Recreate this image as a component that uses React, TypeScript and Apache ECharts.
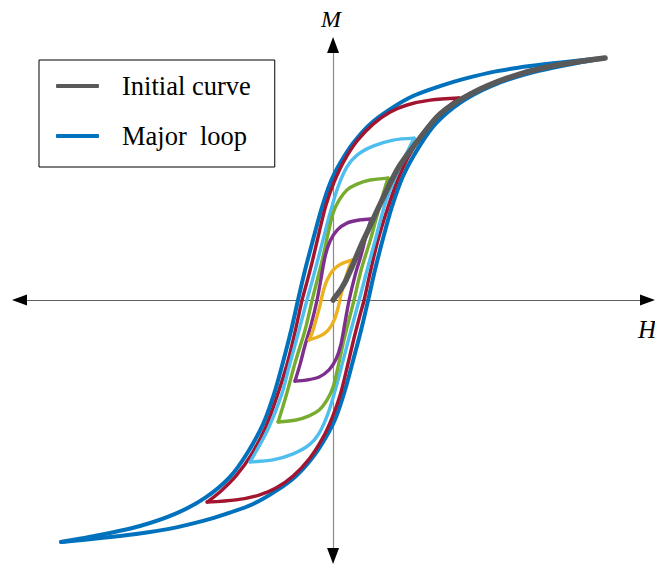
import React, { useEffect, useRef } from "react";
import * as echarts from "echarts";

// Axis ranges (H horizontal, M vertical), arbitrary units: major-loop tip at (10, 10)
const H_MIN = -11.53;
const H_MAX = 11.56;
const M_MIN = -10.58;
const M_MAX = 10.54;

const LEGEND_NAMES = ["Initial curve", "Major  loop"];
const AXIS_NAMES = ["H", "M"];

// Initial magnetisation curve [H, M]
const initialCurve = [
  [0, 0], [0.11, 0.17], [0.29, 0.45], [0.48, 0.83], [0.66, 1.28], [0.85, 1.78],
  [1.07, 2.36], [1.29, 2.89], [1.54, 3.51], [1.8, 4.13], [2.1, 4.83], [2.39, 5.45],
  [2.72, 5.99], [3.16, 6.65], [3.93, 7.69], [5.04, 8.51], [6.4, 9.17], [7.87, 9.63],
  [10.0, 10.0],
];

// Major loop: descending branch (from +tip) and ascending branch (from -tip)
const majorDescending = [
  [10.0, 10.0], [8.46, 9.83], [7.24, 9.67], [6.03, 9.46], [4.78, 9.13], [3.93, 8.84],
  [2.94, 8.43], [2.1, 7.89], [1.36, 7.27], [0.74, 6.49], [0.26, 5.66], [-0.11, 4.83],
  [-0.44, 3.72], [-0.74, 2.48], [-1.03, 1.24], [-1.29, 0], [-1.54, -1.24], [-1.84, -2.56],
  [-2.17, -3.88], [-2.57, -5.12], [-3.13, -6.28], [-3.79, -7.31], [-4.71, -8.18],
  [-5.81, -8.84], [-7.1, -9.34], [-8.57, -9.71], [-10.0, -10.0],
];
const majorAscending = [
  [-10.0, -10.0], [-8.46, -9.83], [-7.24, -9.67], [-6.03, -9.46], [-4.78, -9.13], [-3.93, -8.84],
  [-2.94, -8.43], [-2.1, -7.89], [-1.36, -7.27], [-0.74, -6.49], [-0.26, -5.66], [0.11, -4.83],
  [0.44, -3.72], [0.74, -2.48], [1.03, -1.24], [1.29, 0], [1.54, 1.24], [1.84, 2.56],
  [2.17, 3.88], [2.57, 5.12], [3.13, 6.28], [3.79, 7.31], [4.71, 8.18],
  [5.81, 8.84], [7.1, 9.34], [8.57, 9.71], [10.0, 10.0],
];

// Minor loops
const redDescending = [
  [4.63, 8.35], [3.57, 8.26], [2.72, 8.06], [2.1, 7.77], [1.47, 7.27], [0.88, 6.57],
  [0.4, 5.74], [0.04, 4.88], [-0.26, 3.93], [-0.51, 2.81], [-0.77, 1.57], [-0.99, 0.62],
  [-1.14, 0], [-1.36, -1.12], [-1.65, -2.48], [-2.02, -3.84], [-2.46, -5.21], [-3.01, -6.4],
  [-3.57, -7.27], [-4.12, -7.89], [-4.63, -8.35],
];
const redAscending = [
  [-4.63, -8.35], [-3.57, -8.26], [-2.72, -8.06], [-2.1, -7.77], [-1.47, -7.27], [-0.88, -6.57],
  [-0.4, -5.74], [-0.04, -4.88], [0.26, -3.93], [0.51, -2.81], [0.77, -1.57], [0.99, -0.62],
  [1.14, 0], [1.36, 1.12], [1.65, 2.48], [2.02, 3.84], [2.46, 5.21], [3.01, 6.4],
  [3.57, 7.27], [4.12, 7.89], [4.63, 8.35],
];
const lightBlueDescending = [
  [2.98, 6.69], [2.21, 6.61], [1.47, 6.36], [0.88, 5.99], [0.51, 5.5], [0.18, 4.67],
  [-0.11, 3.6], [-0.4, 2.36], [-0.66, 1.24], [-0.96, 0], [-1.25, -1.24], [-1.58, -2.6],
  [-1.91, -3.97], [-2.39, -5.33], [-3.05, -6.69],
];
const lightBlueAscending = [
  [-3.05, -6.69], [-2.21, -6.61], [-1.47, -6.36], [-0.88, -5.99], [-0.51, -5.5], [-0.18, -4.67],
  [0.11, -3.6], [0.4, -2.36], [0.66, -1.24], [0.96, 0], [1.25, 1.24], [1.58, 2.6],
  [1.91, 3.97], [2.39, 5.33], [2.98, 6.69],
];
const greenDescending = [
  [2.02, 5.04], [1.36, 4.96], [0.88, 4.79], [0.51, 4.55], [0.22, 4.13], [0, 3.6],
  [-0.18, 2.77], [-0.4, 1.65], [-0.63, 0.62], [-0.77, 0], [-1.03, -1.24], [-1.4, -2.6],
  [-1.73, -3.97], [-2.02, -5.04],
];
const greenAscending = [
  [-2.02, -5.04], [-1.36, -4.96], [-0.88, -4.79], [-0.51, -4.55], [-0.22, -4.13], [0, -3.6],
  [0.18, -2.77], [0.4, -1.65], [0.63, -0.62], [0.77, 0], [1.03, 1.24], [1.4, 2.6],
  [1.73, 3.97], [2.02, 5.04],
];
const purpleDescending = [
  [1.4, 3.35], [0.99, 3.31], [0.51, 3.18], [0.15, 2.89], [-0.11, 2.44], [-0.29, 1.82],
  [-0.44, 0.91], [-0.59, 0], [-0.81, -1.03], [-1.03, -1.86], [-1.21, -2.64], [-1.4, -3.35],
];
const purpleAscending = [
  [-1.4, -3.35], [-0.99, -3.31], [-0.51, -3.18], [-0.15, -2.89], [0.11, -2.44], [0.29, -1.82],
  [0.44, -0.91], [0.59, 0], [0.81, 1.03], [1.03, 1.86], [1.21, 2.64], [1.4, 3.35],
];
const yellowDescending = [
  [0.7, 1.65], [0.29, 1.49], [0, 1.24], [-0.22, 0.83], [-0.37, 0.33], [-0.48, -0.21],
  [-0.63, -0.83], [-0.77, -1.36], [-0.88, -1.65],
];
const yellowAscending = [
  [-0.88, -1.65], [-0.48, -1.49], [-0.18, -1.24], [0.04, -0.83], [0.18, -0.33], [0.29, 0.21],
  [0.44, 0.83], [0.59, 1.36], [0.7, 1.65],
];

const GRAY = "#595959";
const BLUE = "#0072BD";
const RED = "#A2142F";
const LIGHT_BLUE = "#4DBEEE";
const GREEN = "#77AC30";
const PURPLE = "#7E2F8E";
const YELLOW = "#EDB120";

const SERIF = '"Liberation Serif", "Times New Roman", serif';

export default function App() {
  const ref = useRef<HTMLDivElement>(null);

  useEffect(() => {
    if (!ref.current) return;
    const chart = echarts.init(ref.current, null, { renderer: "svg" });

    const line = (name: string, data: number[][], color: string, width: number, z: number) => ({
      type: "line",
      name,
      data,
      color,
      symbol: "none",
      smooth: 0.3,
      clip: false,
      silent: true,
      z,
      lineStyle: { color, width, cap: "round", join: "round" },
      itemStyle: { color },
    });

    const hidden = {
      axisTick: { show: false },
      axisLabel: { show: false },
      splitLine: { show: false },
    };

    chart.setOption({
      animation: false,
      grid: { left: 19.5, right: 7.5, top: 45, bottom: 8 },
      xAxis: [
        {
          type: "value", min: H_MIN, max: H_MAX, position: "bottom", ...hidden,
          axisLine: { onZero: true, onZeroAxisIndex: 0, lineStyle: { color: "#5f5f5f", width: 1 } },
        },
        {
          type: "value", min: H_MIN, max: H_MAX, position: "bottom", ...hidden,
          axisLine: {
            onZero: true, onZeroAxisIndex: 0, symbol: ["triangle", "triangle"], symbolSize: [11, 15],
            lineStyle: { color: "#000", width: 0 },
          },
        },
      ],
      yAxis: [
        {
          type: "value", min: M_MIN, max: M_MAX, position: "left", ...hidden,
          axisLine: { onZero: true, onZeroAxisIndex: 0, lineStyle: { color: "#8c8c8c", width: 1.2 } },
        },
        {
          type: "value", min: M_MIN, max: M_MAX, position: "left", ...hidden,
          axisLine: {
            onZero: true, onZeroAxisIndex: 0, symbol: ["triangle", "triangle"], symbolSize: [12, 16],
            lineStyle: { color: "#000", width: 0 },
          },
        },
      ],
      legend: {
        data: LEGEND_NAMES,
        orient: "vertical",
        left: 39,
        top: 60,
        padding: [11, 24, 16, 17],
        itemGap: 20,
        itemWidth: 43,
        itemHeight: 4,
        icon: "roundRect",
        itemStyle: { borderWidth: 0 },
        borderColor: "#000",
        borderWidth: 1,
        backgroundColor: "#fff",
        selectedMode: false,
        textStyle: {
          fontFamily: SERIF,
          fontSize: 26.5,
          color: "#000",
          lineHeight: 30,
          padding: [0, 0, 0, 18],
        },
      },
      graphic: [
        {
          type: "text",
          x: 321,
          y: 19,
          style: { text: AXIS_NAMES[1], font: `italic 24px ${SERIF}`, fill: "#000", align: "left", verticalAlign: "middle" },
        },
        {
          type: "text",
          x: 638,
          y: 329,
          style: { text: AXIS_NAMES[0], font: `italic 25px ${SERIF}`, fill: "#000", align: "left", verticalAlign: "middle" },
        },
      ],
      series: [
        line("Major  loop", majorDescending, BLUE, 4, 2),
        line("Major  loop", majorAscending, BLUE, 4, 2),
        line("Minor loop 5", redDescending, RED, 3.4, 3),
        line("Minor loop 5", redAscending, RED, 3.4, 3),
        line("Minor loop 4", lightBlueDescending, LIGHT_BLUE, 3.4, 3),
        line("Minor loop 4", lightBlueAscending, LIGHT_BLUE, 3.4, 3),
        line("Minor loop 3", greenDescending, GREEN, 3.4, 3),
        line("Minor loop 3", greenAscending, GREEN, 3.4, 3),
        line("Minor loop 2", purpleDescending, PURPLE, 3.4, 3),
        line("Minor loop 2", purpleAscending, PURPLE, 3.4, 3),
        line("Minor loop 1", yellowDescending, YELLOW, 3.4, 3),
        line("Minor loop 1", yellowAscending, YELLOW, 3.4, 3),
        line("Initial curve", initialCurve, GRAY, 5.5, 4),
      ],
    });

    return () => chart.dispose();
  }, []);

  return (
    <div
      ref={ref}
      style={{ position: "absolute", left: 0, top: 0, width: 655, height: 564, background: "#fff" }}
    />
  );
}
